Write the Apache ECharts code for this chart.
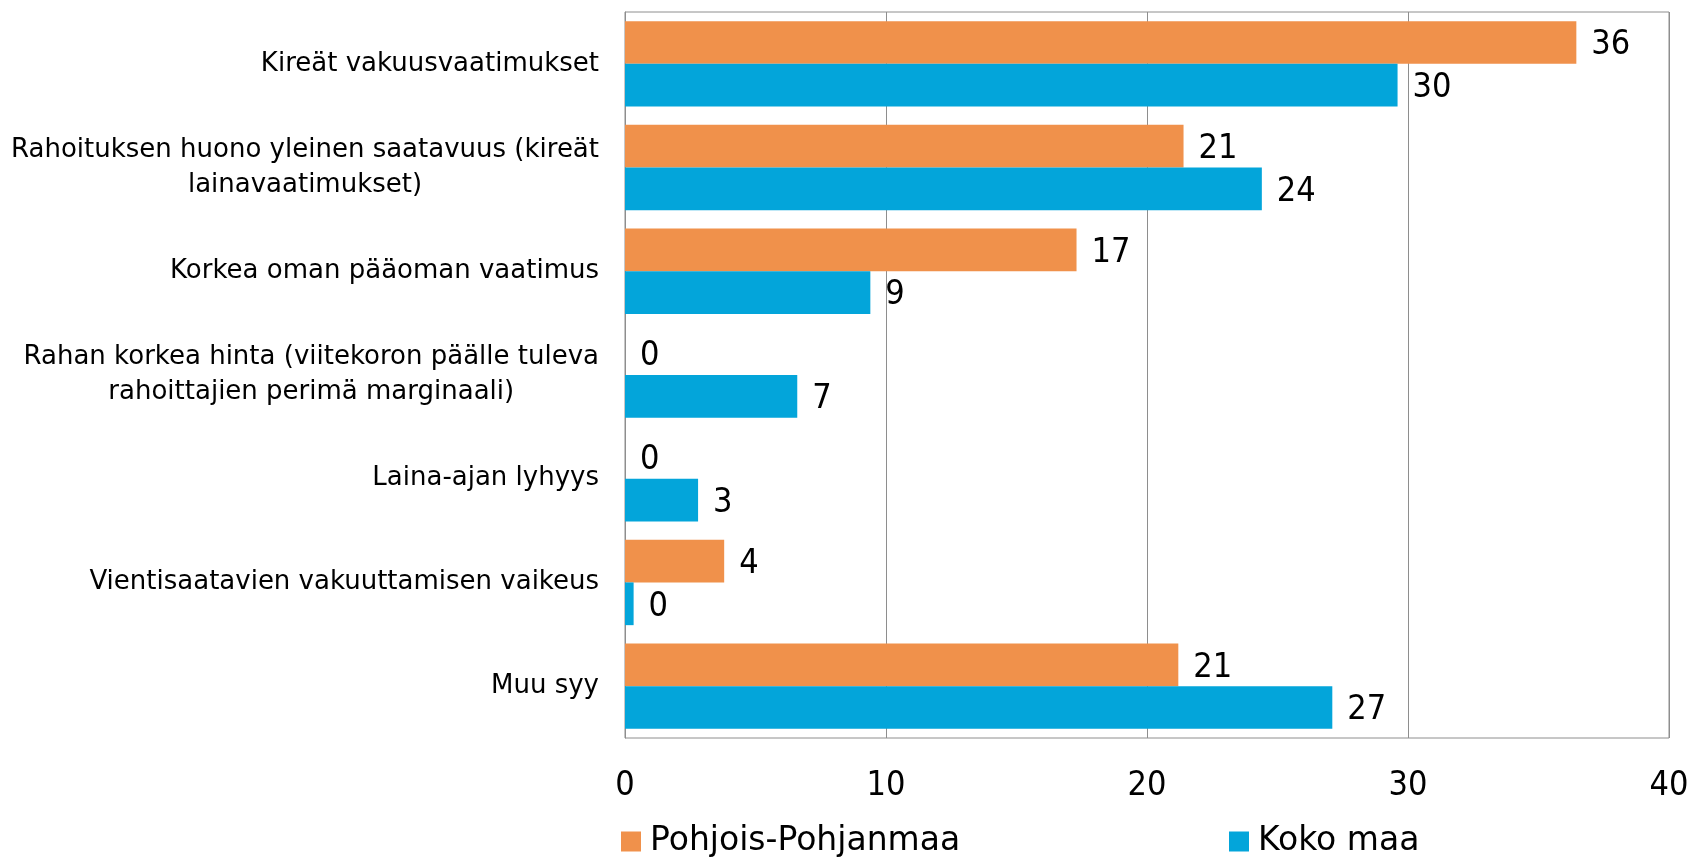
<!DOCTYPE html>
<html>
<head>
<meta charset="utf-8">
<script src="https://cdn.jsdelivr.net/npm/echarts@6/dist/echarts.min.js"></script>
<style>
  html, body { margin: 0; padding: 0; background: #fff; }
  #chart { width: 1690px; height: 861px; }
</style>
</head>
<body>
<div id="chart"></div>
<script>
  const categories = [
    'Kireät vakuusvaatimukset',
    'Rahoituksen huono yleinen saatavuus (kireät\nlainavaatimukset)',
    'Korkea oman pääoman vaatimus',
    'Rahan korkea hinta (viitekoron päälle tuleva\nrahoittajien perimä marginaali)',
    'Laina-ajan lyhyys',
    'Vientisaatavien vakuuttamisen vaikeus',
    'Muu syy'
  ]
  const pohjoisPohjanmaa = [36.45, 21.4, 17.3, 0, 0, 3.8, 21.2]
  const kokoMaa = [29.6, 24.4, 9.4, 6.6, 2.8, 0.33, 27.1]
  const xTicks = [0, 10, 20, 30, 40]

  const FONT = '"DejaVu Sans", sans-serif'
  const NUMFONT = '"DejaVu Sans Condensed", "DejaVu Sans", sans-serif'
  const ORANGE = '#F0914B'
  const BLUE = '#03A5DA'
  const GRAY = '#8e8e8e'

  const chart = echarts.init(document.getElementById('chart'))

  const barLabel = {
    show: true,
    position: 'right',
    distance: 15,
    offset: [0, 3],
    color: '#000',
    fontFamily: NUMFONT,
    fontSize: 34,
    formatter: (p) => Math.round(p.value)
  }

  const legendText = { fontFamily: FONT, fontSize: 33, color: '#000', padding: [0, 0, 0, 4] }

  const option = {
    animation: false,
    textStyle: { fontFamily: FONT },
    grid: {
      left: 625,
      right: 21,
      top: 12,
      bottom: 123,
      show: true,
      borderColor: GRAY,
      borderWidth: 1,
      containLabel: false,
      outerBoundsMode: 'none'
    },
    legend: [
      {
        data: ['Pohjois-Pohjanmaa'],
        left: 621,
        top: 825,
        padding: 0,
        icon: 'rect',
        itemWidth: 20,
        itemHeight: 20,
        textStyle: legendText
      },
      {
        data: ['Koko maa'],
        left: 1229,
        top: 825,
        padding: 0,
        icon: 'rect',
        itemWidth: 20,
        itemHeight: 20,
        textStyle: legendText
      }
    ],
    xAxis: {
      type: 'value',
      min: xTicks[0],
      max: xTicks[xTicks.length - 1],
      interval: 10,
      axisLine: { show: false },
      axisTick: { show: false },
      axisLabel: {
        margin: 31,
        color: '#000',
        fontFamily: NUMFONT,
        fontSize: 34
      },
      splitLine: { show: true, lineStyle: { color: GRAY, width: 1 } }
    },
    yAxis: {
      type: 'category',
      inverse: true,
      data: categories,
      axisLine: { show: true, lineStyle: { color: GRAY, width: 1 } },
      axisTick: { show: false },
      axisLabel: {
        margin: 26,
        color: '#000',
        formatter: (v) => v.split('\n').map(s => '{c|' + s + '}').join('\n'),
        rich: {
          c: {
            align: 'center',
            fontFamily: FONT,
            fontSize: 26,
            lineHeight: 35,
            color: '#000'
          }
        }
      }
    },
    series: [
      {
        name: 'Pohjois-Pohjanmaa',
        type: 'bar',
        data: pohjoisPohjanmaa,
        barGap: '0%',
        barCategoryGap: '17.6%',
        itemStyle: { color: ORANGE },
        label: barLabel
      },
      {
        name: 'Koko maa',
        type: 'bar',
        data: kokoMaa,
        barGap: '0%',
        barCategoryGap: '17.6%',
        itemStyle: { color: BLUE },
        label: barLabel
      }
    ]
  }

  chart.setOption(option)
</script>
</body>
</html>
